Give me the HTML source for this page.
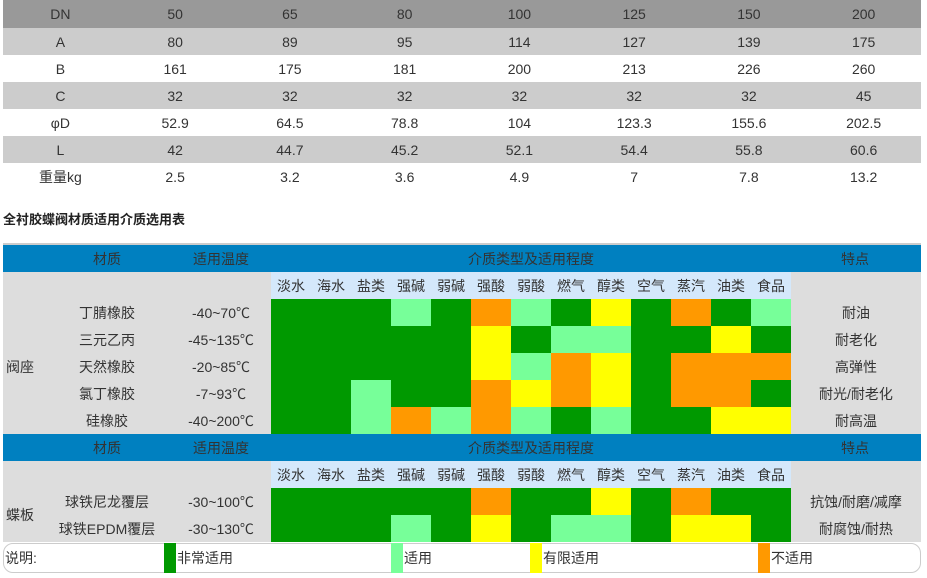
<!DOCTYPE html>
<html><head><meta charset="utf-8">
<style>
body{margin:0;width:927px;height:578px;background:#fff;position:relative;overflow:hidden;font-family:"Liberation Sans","Noto Sans CJK SC",sans-serif;font-size:14px;color:#333}
.a{position:absolute;box-sizing:border-box}
.c{display:flex;align-items:center;justify-content:center;white-space:nowrap}
</style></head><body>
<div id="root"></div>
<script>
const dimHeaders=["DN","50","65","80","100","125","150","200"];
const dimRows=[["A","80","89","95","114","127","139","175"],["B","161","175","181","200","213","226","260"],["C","32","32","32","32","32","32","45"],["φD","52.9","64.5","78.8","104","123.3","155.6","202.5"],["L","42","44.7","45.2","52.1","54.4","55.8","60.6"],["重量kg","2.5","3.2","3.6","4.9","7","7.8","13.2"]];
const media=["淡水","海水","盐类","强碱","弱碱","强酸","弱酸","燃气","醇类","空气","蒸汽","油类","食品"];
const seatMaterials=["丁腈橡胶","三元乙丙","天然橡胶","氯丁橡胶","硅橡胶"];
const seatTemps=["-40~70℃","-45~135℃","-20~85℃","-7~93℃","-40~200℃"];
const seatFeatures=["耐油","耐老化","高弹性","耐光/耐老化","耐高温"];
const seatGrid=["GGGLGOLGYGOGL","GGGGGYGLLGGYG","GGGGGYLOYGOOO","GGLGGOYOYGOOG","GGLOLOLGLGGYY"];
const discMaterials=["球铁尼龙覆层","球铁EPDM覆层"];
const discTemps=["-30~100℃","-30~130℃"];
const discFeatures=["抗蚀/耐磨/减摩","耐腐蚀/耐热"];
const discGrid=["GGGGGOGGYGOGG","GGGLGYGLLGYYG"];
const colors={G:"#009900",L:"#77ff99",Y:"#ffff00",O:"#ff9900"};
const root=document.getElementById('root');
function box(x,y,w,h,txt,style,name){const d=document.createElement('div');d.className='a c';d.style.left=x+'px';d.style.top=y+'px';d.style.width=w+'px';d.style.height=h+'px';if(style)d.style.cssText+=style;if(txt!=null)d.textContent=txt;


root.appendChild(d);return d;}
// top table
const rowY=[0,28,55,82,109,136,163,190];
box(3,0,918,28,null,'background:#999','dims-header-bg');
dimHeaders.forEach((t,i)=>box(3+i*114.75,0,114.75,28,t,'','dims-header-cell'));
dimRows.forEach((r,ri)=>{const y=rowY[ri+1],h=rowY[ri+2]-y;
box(3,y,918,h,null,'background:'+(ri%2?'#fff':'#ccc'),'dims-row-bg');
r.forEach((t,i)=>box(3+i*114.75,y,114.75,h,t,'','dims-cell'));});
box(3,209,300,18,'全衬胶蝶阀材质适用介质选用表','justify-content:flex-start;font-weight:bold;font-size:13px;color:#222','table-title');
// second table
const mx=271,cw=40;
function section(top,label,mats,temps,feats,grid,key){
 box(3,top,918,27,null,'background:#0080c0','header-bar-'+key);
 box(70,top,74,27,'材质','','header-material');
 box(180,top,82,27,'适用温度','','header-temp');
 box(mx,top,520,27,'介质类型及适用程度','','header-media');
 box(800,top,110,27,'特点','','header-feature');
 const bodyTop=top+27,bodyH=27*(mats.length+1);
 box(3,bodyTop,918,bodyH,null,'background:#ddd','body-bg-'+key);
 box(mx,bodyTop,520,27,null,'background:#d4e8fb','media-header-bg');
 media.forEach((m,i)=>box(mx+i*cw,bodyTop,cw,27,m,'','media-label'));
 box(3,bodyTop+27,40,27*mats.length,label,'justify-content:flex-start;padding-left:3px','group-label-'+key);
 mats.forEach((m,r)=>{const y=bodyTop+27*(r+1);
  box(60,y,94,27,m,'','material-name');
  box(175,y,92,27,temps[r],'','temp-range');
  box(792,y,128,27,feats[r],'','feature');
  grid[r].split('').forEach((k,i)=>box(mx+i*cw,y,cw,27,null,'background:'+colors[k],'cell-'+key));
 });
}
box(3,243,918,2,null,'background:#ccc','top-border');
section(245,'阀座',seatMaterials,seatTemps,seatFeatures,seatGrid,'seat');
section(434,'蝶板',discMaterials,discTemps,discFeatures,discGrid,'disc');
// legend
box(3,543,918,30,null,'border:1px solid #ccc;border-radius:10px;background:#fff','legend-box');
box(5,543,60,30,'说明:','justify-content:flex-start','legend-title');
const legX=[164,391,530,758],legK=["G","L","Y","O"],legT=["非常适用","适用","有限适用","不适用"];
legK.forEach((k,i)=>{box(legX[i],543,12,30,null,'background:'+colors[k],'legend-swatch');box(legX[i]+13,543,80,30,legT[i],'justify-content:flex-start','legend-label');});
</script>
</body></html>
